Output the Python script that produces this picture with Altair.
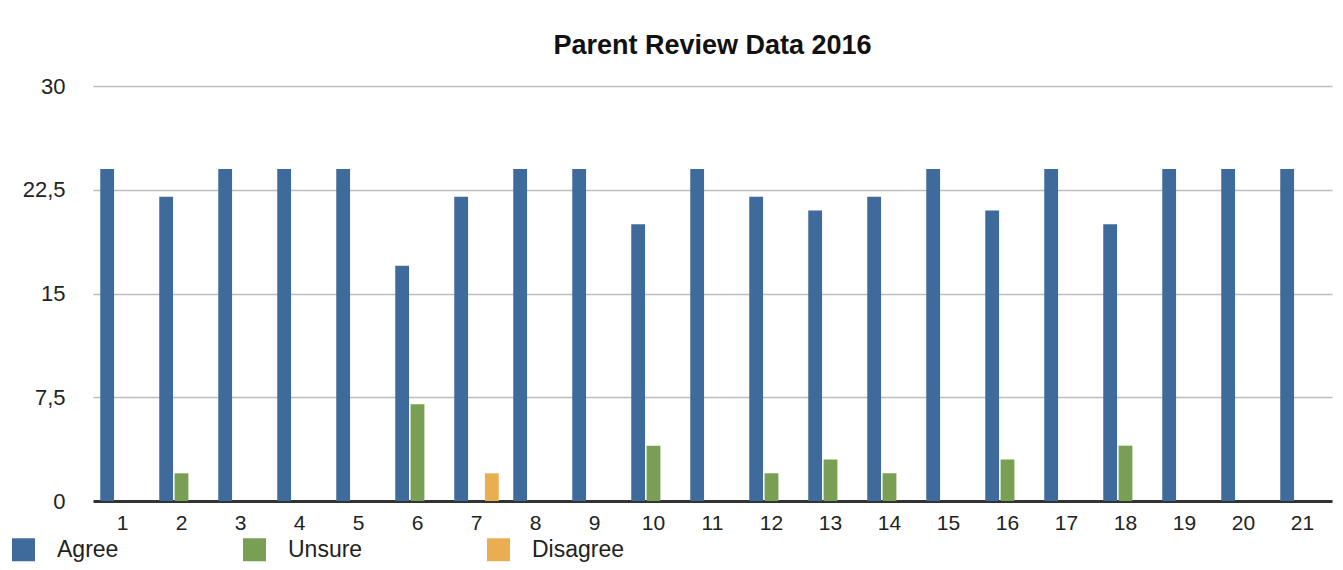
import altair as alt
import pandas as pd

# ---- data ----
questions = list(range(1, 22))
agree = [24, 22, 24, 24, 24, 17, 22, 24, 24, 20, 24, 22, 21, 22, 24, 21, 24, 20, 24, 24, 24]
unsure = [0, 2, 0, 0, 0, 7, 0, 0, 0, 4, 0, 2, 3, 2, 0, 3, 0, 4, 0, 0, 0]
disagree = [0, 0, 0, 0, 0, 0, 2, 0, 0, 0, 0, 0, 0, 0, 0, 0, 0, 0, 0, 0, 0]
series = ["Agree", "Unsure", "Disagree"]
colors = ["#3e6b9b", "#799f55", "#e9ae4f"]
y_ticks = [0, 7.5, 15, 22.5, 30]
title_text = "Parent Review Data 2016"

rows = []
for name, vals in zip(series, [agree, unsure, disagree]):
    for q, v in zip(questions, vals):
        rows.append({"Question": q, "Response": name, "Count": v})
df = pd.DataFrame(rows)

FONT = "Liberation Sans"

chart = alt.Chart(df).mark_bar().encode(
    x=alt.X(
        "Question:O",
        scale=alt.Scale(paddingInner=0.22, paddingOuter=0.11),
        axis=alt.Axis(
            title=None, labelAngle=0, ticks=False, tickSize=0,
            domainColor="#333333", domainWidth=3, labelPadding=11,
            labelFontSize=21, labelFont=FONT, labelColor="#222222",
        ),
    ),
    xOffset=alt.XOffset(
        "Response:N", sort=series,
        scale=alt.Scale(paddingInner=0.1, paddingOuter=0.05),
    ),
    y=alt.Y(
        "Count:Q",
        scale=alt.Scale(domain=[0, 30], nice=False),
        axis=alt.Axis(
            title=None, values=y_ticks, domain=False, ticks=False, tickSize=0,
            labelExpr="replace(toString(datum.value), '.', ',')",
            labelPadding=28, labelFontSize=22, labelFont=FONT, labelColor="#222222",
            grid=True, gridColor="#bdbdbd", gridWidth=1.5,
        ),
    ),
    color=alt.Color(
        "Response:N", sort=series,
        scale=alt.Scale(domain=series, range=colors),
        legend=alt.Legend(
            title=None, orient="none", legendX=-81, legendY=452,
            direction="horizontal", columns=3, gridAlign="each", columnPadding=124,
            symbolType="square", symbolSize=529, symbolStrokeWidth=0, symbolOpacity=1,
            labelFontSize=23, labelFont=FONT, labelColor="#222222", labelOffset=22,
        ),
    ),
).properties(
    width=1239,
    height=415,
    title=alt.TitleParams(
        title_text, fontSize=27, fontWeight="bold", font=FONT, color="#111111",
        anchor="middle", offset=20, dy=26, baseline="alphabetic",
    ),
    autosize=alt.AutoSizeParams(type="none"),
    padding={"left": 85, "top": 78, "right": 2, "bottom": 61},
).configure_view(stroke=None)

chart.save("out.html", embed_options={"renderer": "svg", "actions": False})
